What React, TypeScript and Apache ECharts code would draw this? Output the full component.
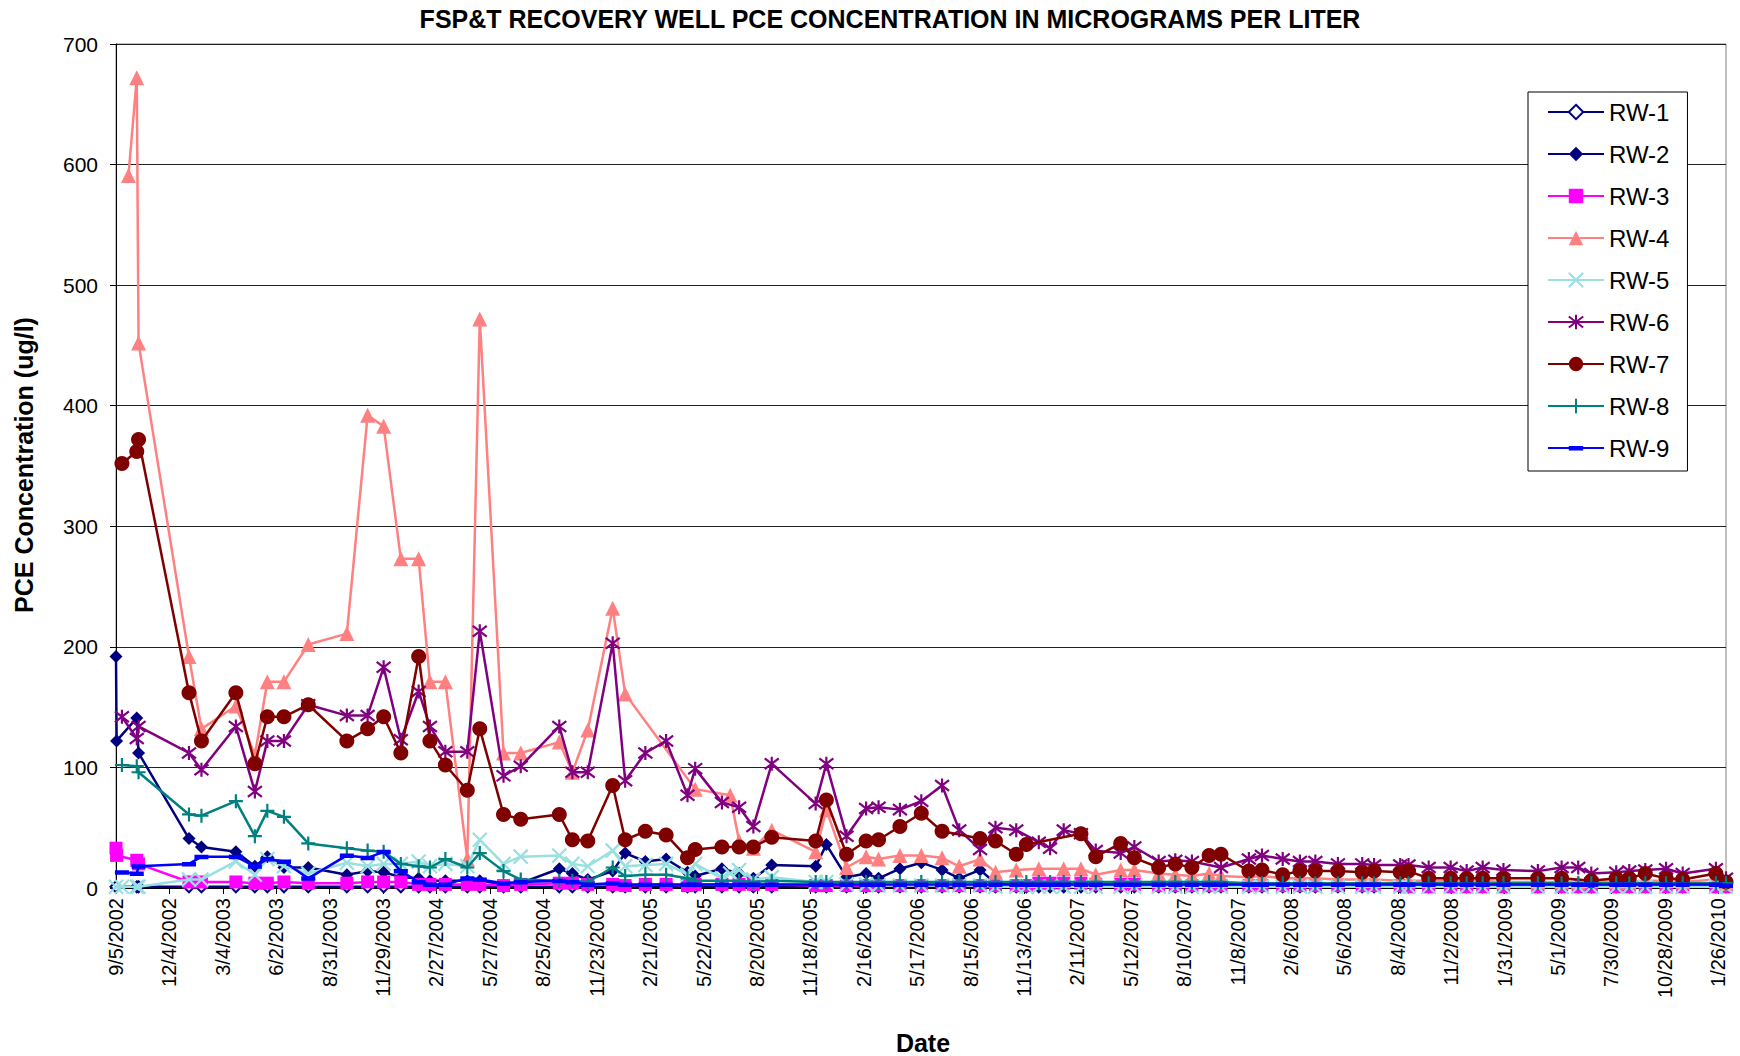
import React, { useEffect, useRef } from "react";
import * as echarts from "echarts";

const dates = [
  "9/5/2002", "9/6/2002", "9/15/2002", "9/26/2002", "10/10/2002", "10/13/2002", "1/6/2003", "1/27/2003", "3/26/2003", "4/27/2003",
  "5/18/2003", "6/15/2003", "7/26/2003", "9/29/2003", "11/3/2003", "11/30/2003", "12/29/2003", "1/28/2004", "2/16/2004", "3/13/2004",
  "4/19/2004", "5/10/2004", "6/19/2004", "7/18/2004", "9/21/2004", "10/13/2004", "11/8/2004", "12/20/2004", "1/10/2005", "2/13/2005",
  "3/20/2005", "4/25/2005", "5/8/2005", "6/22/2005", "7/6/2005", "7/21/2005", "8/14/2005", "9/14/2005", "11/27/2005", "12/15/2005",
  "1/18/2006", "2/20/2006", "3/13/2006", "4/18/2006", "5/24/2006", "6/28/2006", "7/27/2006", "8/31/2006", "9/26/2006", "10/31/2006",
  "11/17/2006", "12/8/2006", "12/27/2006", "1/19/2007", "2/17/2007", "3/14/2007", "4/25/2007", "5/18/2007", "6/28/2007", "7/26/2007",
  "8/23/2007", "9/21/2007", "10/11/2007", "11/27/2007", "12/19/2007", "1/23/2008", "2/21/2008", "3/18/2008", "4/25/2008", "6/5/2008",
  "6/25/2008", "8/8/2008", "8/22/2008", "9/25/2008", "11/1/2008", "11/28/2008", "12/25/2008", "1/29/2009", "3/28/2009", "5/7/2009",
  "6/4/2009", "6/26/2009", "8/7/2009", "8/29/2009", "9/25/2009", "10/30/2009", "11/27/2009", "1/22/2010", "2/8/2010",
];

const RW1 = [
  1, null, null, null, 1, 1, 1, 1, 1, 1,
  1, 1, 1, 1, 1, 1, 1, 1, 1, 1,
  1, 1, 1, 1, 1, 1, 1, 1, 1, 1,
  1, 1, 1, 1, null, 1, 1, 1, 1, 1,
  1, 1, 1, 1, 1, 1, 1, 1, 1, 1,
  1, 1, 1, 1, 1, 1, 1, 1, 1, 1,
  1, 1, 1, 1, 1, 1, 1, 1, 1, 1,
  1, 1, 1, 1, 1, 1, 1, 1, 1, 1,
  1, 1, 1, 1, 1, 1, 1, 1, 1,
];
const RW2 = [
  192, 122, null, null, 141, 112, 41, 34, 30, 18,
  26, 17, 17, 11, 14, 13, 9, 8, 6, 6,
  6, 6, 3, 4, 16, 12, 7, 14, 29, 22,
  24, 13, 10, 16, null, 12, 8, 19, 18, 36,
  9, 12, 8, 16, 21, 15, 8, 15, 4, 3,
  3, 3, 3, 3, 4, 3, 3, 3, 3, 3,
  3, 3, 3, 3, 3, 3, 3, 3, 3, 3,
  3, 3, 3, 3, 3, 3, 3, 3, 3, 3,
  3, 3, 3, 3, 3, 3, 3, 3, 3,
];
const RW3 = [
  33, 27, null, null, 23, 20, 5, 5, 5, 4,
  4, 5, 4, 4, 5, 5, 5, 3, 3, 3,
  3, 3, 2, 3, 4, 4, 3, 3, 2, 3,
  3, 2, 3, 3, null, 3, 3, 3, 2, 2,
  2, 2, 2, 2, 2, 2, 2, 2, 2, 2,
  2, 4, 4, 4, 4, 3, 3, 3, 2, 2,
  2, 2, 2, 2, 2, 2, 2, 2, 2, 2,
  2, 2, 1, 1, 1, 1, 1, 1, 1, 1,
  1, 1, 1, 1, 1, 1, 1, 1, 1,
];
const RW4 = [
  null, null, null, 591, 672, 452, 192, 132, 151, 110,
  171, 171, 202, 211, 392, 383, 273, 273, 171, 171,
  24, 472, 112, 112, 121, 96, 131, 232, 161, null,
  null, null, 82, null, 77, 39, 33, 48, 30, 65,
  17, 26, 24, 27, 27, 25, 18, 24, 13, 15,
  null, 16, null, 16, 16, 11, 15, 15, 12, 11,
  10, 12, 10, 9, 10, 8, 8, 8, 7, 7,
  7, 6, 6, 6, 6, 6, 6, 5, 5, 5,
  5, 6, 5, 5, 6, 6, 5, 7, 4,
];
const RW5 = [
  1, null, 1, null, 1, 1, 7, 7, 22, 11,
  24, 18, 12, 21, 18, 20, 20, 22, 18, 20,
  18, 40, 20, 26, 27, 20, 18, 31, 18, 19,
  20, 11, 20, 8, 12, 15, 7, 9, 5, 5,
  3, 3, 2, 2, 2, 2, 2, 2, 1, 1,
  1, 1, 1, 1, 1, 1, 1, 1, 1, 1,
  1, 1, 1, 1, 1, 1, 1, 1, 1, 1,
  1, 1, 1, 1, 1, 1, 1, 1, 1, 1,
  1, 1, 1, 1, 1, 1, 1, 1, 1,
];
const RW6 = [
  null, null, 142, null, 124, 134, 112, 98, 134, 80,
  122, 122, 152, 143, 143, 183, 123, 163, 134, 113,
  113, 213, 93, 101, 134, 96, 96, 203, 89, 112,
  122, 77, 99, 71, null, 67, 51, 103, 70, 103,
  43, 66, 67, 65, 72, 85, 48, 32, 50, 48,
  null, 38, 33, 48, 45, 31, 29, 34, 22, 23,
  22, null, 17, 24, 27, 24, 22, 22, 20, 20,
  19, 19, 19, 17, 17, 14, 17, 15, 14, 17,
  17, 12, 13, 14, 15, 16, 12, 16, 8,
];
const RW7 = [
  null, null, 352, null, 362, 372, 162, 122, 162, 103,
  142, 142, 152, 122, 132, 142, 112, 192, 122, 102,
  81, 132, 61, 57, 61, 40, 39, 85, 40, 47,
  44, 25, 32, 34, null, 34, 34, 42, 39, 73,
  28, 39, 40, 51, 62, 47, null, 41, 39, 28,
  36, null, null, null, 45, 26, 37, 25, 17, 20,
  17, 27, 28, 14, 15, 11, 14, 14, 14, 13,
  14, 13, 14, 8, 8, 8, 8, 8, 8, 8,
  null, 6, 8, 8, 12, 8, 7, 12, 5,
];
const RW8 = [
  null, null, 102, null, 101, 96, 61, 60, 72, 43,
  64, 59, 37, 33, 31, 30, 20, 18, 17, 24,
  17, 29, 14, 7, 6, 6, 5, 17, 10, 11,
  11, 8, 6, 6, null, 6, 5, 6, 5, 5,
  5, 5, 5, 5, 5, 5, 5, 5, 5, 5,
  5, 5, 5, 5, 5, 5, 5, 5, 5, 5,
  5, 5, 5, 4, 4, 4, 4, 4, 4, 4,
  4, 4, 4, 4, 4, 4, 4, 4, 4, 4,
  4, 4, 4, 4, 4, 4, 4, 4, 4,
];
const RW9 = [
  null, null, 13, null, 12, 18, 20, 26, 26, 18,
  24, 22, 8, 27, 25, 30, 14, 5, 3, 3,
  8, 7, 4, 5, 6, 5, 3, 4, 3, 3,
  3, 3, 3, 3, null, 3, 3, 3, 3, 3,
  3, 3, 3, 3, 3, 3, 3, 3, 3, 3,
  3, 3, 3, 3, 3, 3, 3, 3, 3, 3,
  3, 3, 3, 3, 3, 3, 3, 3, 3, 3,
  3, 3, 3, 3, 3, 3, 3, 3, 3, 3,
  3, 3, 3, 3, 3, 3, 3, 3, 2,
];

const seriesNames = ["RW-1", "RW-2", "RW-3", "RW-4", "RW-5", "RW-6", "RW-7", "RW-8", "RW-9"];
const seriesValues = [RW1, RW2, RW3, RW4, RW5, RW6, RW7, RW8, RW9];

const yTicks = { min: 0, max: 700, step: 100 };
const xStepDays = 90;

const FONT = "'Liberation Sans', Arial, Helvetica, sans-serif";

const parseDate = (s: string) => {
  const [m, d, y] = s.split("/").map(Number);
  return Date.UTC(y, m - 1, d);
};
const baseMs = parseDate(dates[0]);
const dayOf = (s: string) => Math.round((parseDate(s) - baseMs) / 86400000);
const fmtDay = (v: number) => {
  const dt = new Date(baseMs + v * 86400000);
  return `${dt.getUTCMonth() + 1}/${dt.getUTCDate()}/${dt.getUTCFullYear()}`;
};

const X_PATH = "path://M0,0L10,10M10,0L0,10";
const STAR_PATH = "path://M0,0L10,10M10,0L0,10M5,-1.5L5,11.5";
const PLUS_PATH = "path://M5,0L5,10M0,5L10,5";
// square bounding box (0..14) with a thin dash in the middle
const DASH_PATH = "path://M0,0L0.01,0ZM0,5L14,5L14,9.5L0,9.5ZM14,14L13.99,14Z";

const styles = [
  { color: "#000080", fill: "#FFFFFF", symbol: "diamond", size: 11, bw: 2 },
  { color: "#000080", fill: "#000080", symbol: "diamond", size: 13, bw: 0 },
  { color: "#FF00FF", fill: "#FF00FF", symbol: "rect", size: 13, bw: 0 },
  { color: "#FF8080", fill: "#FF8080", symbol: "triangle", size: 15, bw: 0 },
  { color: "#99E0E0", fill: "#99E0E0", symbol: X_PATH, size: 14, bw: 2.2 },
  { color: "#800080", fill: "#800080", symbol: STAR_PATH, size: 14, bw: 2.2 },
  { color: "#800000", fill: "#800000", symbol: "circle", size: 15, bw: 0 },
  { color: "#008080", fill: "#008080", symbol: PLUS_PATH, size: 14, bw: 2.2 },
  { color: "#0000FF", fill: "#0000FF", symbol: DASH_PATH, size: 14, bw: 0 },
];

export default function App() {
  const ref = useRef<HTMLDivElement>(null);
  useEffect(() => {
    if (!ref.current) return;
    const chart = echarts.init(ref.current, null, { renderer: "svg" });
    const lastDay = dayOf(dates[dates.length - 1]);
    const series = seriesNames.map((name, si) => {
      const st = styles[si];
      const vals = seriesValues[si];
      const data: any[] = [];
      dates.forEach((d, i) => {
        if (vals[i] !== null && vals[i] !== undefined) data.push([dayOf(d), vals[i]]);
      });
      return {
        type: "line",
        name,
        data,
        symbol: st.symbol,
        symbolSize: st.size,
        showAllSymbol: true,
        lineStyle: { color: st.color, width: 2.5 },
        itemStyle: { color: st.fill, borderColor: st.color, borderWidth: st.bw },
        emphasis: { disabled: true },
        z: 2 + si,
      };
    });
    chart.setOption({
      animation: false,
      backgroundColor: "#ffffff",
      textStyle: { fontFamily: FONT },
      grid: {
        left: 116,
        right: 14,
        top: 44,
        bottom: 168,
        show: true,
        borderColor: "#808080",
        borderWidth: 1,
        containLabel: false,
      },
      legend: {
        data: seriesNames,
        orient: "vertical",
        left: 1528,
        top: 92,
        padding: [8, 18, 11, 19],
        itemWidth: 56,
        itemHeight: 18,
        itemGap: 18,
        borderColor: "#000000",
        borderWidth: 1,
        backgroundColor: "#ffffff",
        textStyle: { fontSize: 24, color: "#000", fontFamily: FONT, lineHeight: 24 },
        selectedMode: false,
      },
      xAxis: {
        type: "value",
        min: 0,
        max: lastDay,
        interval: xStepDays,
        axisLine: { show: true, lineStyle: { color: "#000", width: 1 } },
        axisTick: { show: true, length: 6, lineStyle: { color: "#000" } },
        splitLine: { show: false },
        axisLabel: {
          rotate: 90,
          fontSize: 20,
          color: "#000",
          fontFamily: FONT,
          margin: 10,
          showMaxLabel: false,
          formatter: (v: number) => (v % xStepDays === 0 ? fmtDay(v) : ""),
        },
      },
      yAxis: {
        type: "value",
        min: yTicks.min,
        max: yTicks.max,
        interval: yTicks.step,
        axisLine: { show: true, lineStyle: { color: "#000", width: 1 } },
        axisTick: { show: true, length: 6, lineStyle: { color: "#000" } },
        splitLine: { show: true, lineStyle: { color: "#222", width: 1 } },
        axisLabel: { fontSize: 21, color: "#000", fontFamily: FONT, margin: 18 },
      },
      graphic: [
        {
          type: "text",
          x: 890,
          y: 19,
          style: {
            text: "FSP&T RECOVERY WELL PCE CONCENTRATION IN MICROGRAMS PER LITER",
            font: `bold 25px ${FONT}`,
            fill: "#000",
            textAlign: "center",
            textVerticalAlign: "middle",
          },
        },
        {
          type: "text",
          x: 24,
          y: 465,
          rotation: Math.PI / 2,
          style: {
            text: "PCE Concentration (ug/l)",
            font: `bold 25px ${FONT}`,
            fill: "#000",
            textAlign: "center",
            textVerticalAlign: "middle",
          },
        },
        {
          type: "text",
          x: 923,
          y: 1043,
          style: {
            text: "Date",
            font: `bold 25px ${FONT}`,
            fill: "#000",
            textAlign: "center",
            textVerticalAlign: "middle",
          },
        },
      ],
      series,
    });
    return () => chart.dispose();
  }, []);
  return (
    <div
      ref={ref}
      style={{ position: "fixed", left: 0, top: 0, width: 1740, height: 1056, background: "#fff" }}
    />
  );
}
